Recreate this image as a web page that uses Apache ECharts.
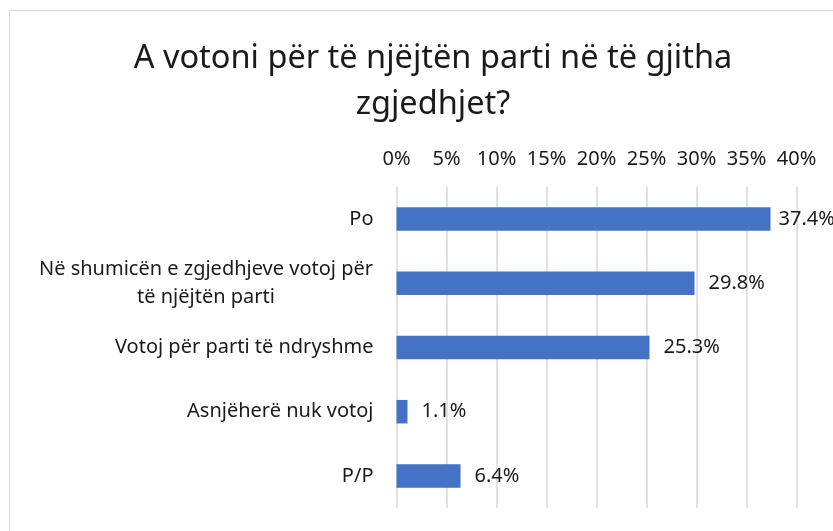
<!DOCTYPE html>
<html>
<head>
<meta charset="utf-8">
<script src="https://cdn.jsdelivr.net/npm/echarts@6/dist/echarts.min.js"></script>
<style>
  html, body { margin: 0; padding: 0; background: #fff; }
  #frame { position: absolute; left: 9px; top: 10px; width: 840px; height: 540px; border: 1px solid #d9d9d9; box-sizing: border-box; }
  #chart { width: 833px; height: 531px; }
</style>
</head>
<body>
<div id="frame"></div>
<div id="chart"></div>
<script>
// A votoni për të njëjtën parti në të gjitha zgjedhjet?
const titleLines = ['A votoni për të njëjtën parti në të gjitha', 'zgjedhjet?'];
const categories = [
    'Po',
    'Në shumicën e zgjedhjeve votoj për\ntë njëjtën parti',
    'Votoj për parti të ndryshme',
    'Asnjëherë nuk votoj',
    'P/P'
];
const values = [37.4, 29.8, 25.3, 1.1, 6.4];

const FONT = 'Noto Sans';
const LABEL_SIZE = 20;
const TEXT = '#1a1a1a';

// width of the longest line of the wrapped label, so both lines centre on it
function textWidth(s, size) {
    const ctx = document.createElement('canvas').getContext('2d');
    ctx.font = size + 'px "' + FONT + '"';
    return Math.ceil(ctx.measureText(s).width);
}
const wrapWidth = Math.max(...categories.filter(c => c.includes('\n'))
    .flatMap(c => c.split('\n'))
    .map(s => textWidth(s, LABEL_SIZE)));

const chart = echarts.init(document.getElementById('chart'));

chart.setOption({
    animation: false,
    textStyle: { fontFamily: FONT },
    title: {
        text: titleLines.join('\n'),
        left: 428,
        top: 31,
        textAlign: 'center',
        textStyle: { fontFamily: FONT, fontSize: 32.5, fontWeight: 'normal', color: TEXT, lineHeight: 46 }
    },
    grid: { left: 396.5, right: 36.5, top: 187, bottom: 23, containLabel: false },
    xAxis: {
        type: 'value',
        position: 'top',
        min: 0,
        max: 40,
        interval: 5,
        axisLine: { show: false },
        axisTick: { show: false },
        splitLine: { lineStyle: { color: '#d9d9d9', width: 1.5 } },
        axisLabel: {
            margin: 18,
            fontSize: LABEL_SIZE,
            color: TEXT,
            formatter: v => v + '%'
        }
    },
    yAxis: {
        type: 'category',
        inverse: true,
        data: categories,
        axisLine: { show: false },
        axisTick: { show: false },
        axisLabel: {
            margin: 23,
            fontSize: LABEL_SIZE,
            color: TEXT,
            lineHeight: 28,
            formatter: v => {
                if (!v.includes('\n')) return v;
                return v.split('\n').map(s => '{c|' + s + '}').join('\n');
            },
            rich: {
                c: { width: wrapWidth, align: 'center', fontSize: LABEL_SIZE, lineHeight: 28, color: TEXT }
            }
        }
    },
    series: [{
        type: 'bar',
        // the first label sits closer to its bar, as in the picture
        data: values.map((v, i) => ({ value: v, label: { distance: i === 0 ? 8 : 14 } })),
        barWidth: 23.5,
        itemStyle: { color: '#4472c4' },
        label: {
            show: true,
            position: 'right',
            fontSize: LABEL_SIZE,
            color: TEXT,
            formatter: p => p.value.toFixed(1) + '%'
        }
    }]
});
</script>
</body>
</html>
